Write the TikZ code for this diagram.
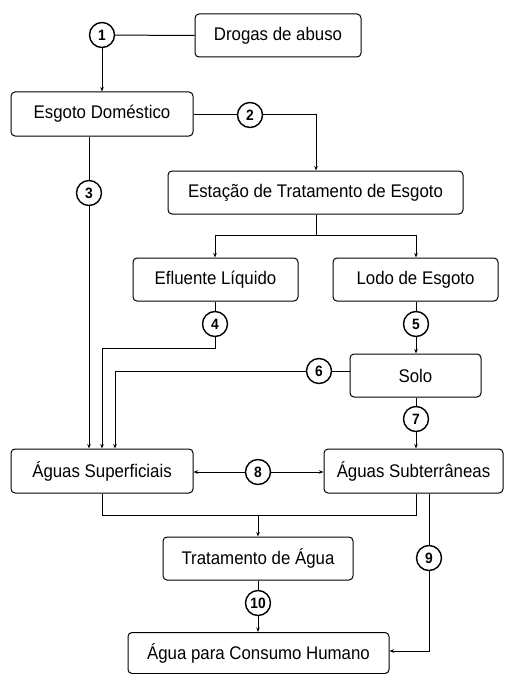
\documentclass[tikz,border=0pt]{standalone}
\usepackage{fontspec}
\setmainfont[FakeStretch=0.92]{Liberation Sans}
\usetikzlibrary{arrows.meta}
\begin{document}
\begin{tikzpicture}[x=1pt,y=-1pt,
  box/.style={draw,line width=1pt,rounded corners=4pt,inner sep=0pt,font=\fontsize{18.3}{20}\selectfont},
  num/.style={draw,circle,line width=1.4pt,minimum size=25pt,inner sep=0pt,font=\fontsize{15}{15}\selectfont\bfseries},
  ln/.style={line width=1pt},
  ar/.style={line width=1pt,-{Stealth[length=4.5pt,width=3.5pt]}}]
\useasboundingbox (0,0) rectangle (505,674);
% boxes
\node[box,minimum width=166pt,minimum height=43pt] (drogas) at (278,35.5) {Drogas de abuso};
\node[box,minimum width=182pt,minimum height=44pt] (esgoto) at (102,114) {Esgoto Doméstico};
\node[box,minimum width=295pt,minimum height=43pt] (ete) at (315.5,192.5) {Estação de Tratamento de Esgoto};
\node[box,minimum width=165pt,minimum height=43pt] (eflu) at (215.5,279.5) {Efluente Líquido};
\node[box,minimum width=165pt,minimum height=43pt] (lodo) at (415.5,279.5) {Lodo de Esgoto};
\node[box,minimum width=131pt,minimum height=43pt] (solo) at (415.5,375.5) {Solo};
\node[box,minimum width=182pt,minimum height=44pt] (sup) at (102,471) {Águas Superficiais};
\node[box,minimum width=179pt,minimum height=44pt] (sub) at (413.5,471) {Águas Subterrâneas};
\node[box,minimum width=190pt,minimum height=43pt] (trat) at (258,558.5) {Tratamento de Água};
\node[box,minimum width=261pt,minimum height=41pt] (cons) at (258.5,653) {Água para Consumo Humano};
% circles
\node[num] (c1) at (102,35) {1};
\node[num] (c2) at (250,115) {2};
\node[num] (c3) at (89,193) {3};
\node[num] (c4) at (215,324) {4};
\node[num] (c5) at (416,324) {5};
\node[num] (c6) at (319,371) {6};
\node[num] (c7) at (416,419) {7};
\node[num] (c8) at (258,472) {8};
\node[num] (c9) at (429,558) {9};
\node[num] (c10) at (258,603) {10};
% coordinates
\coordinate (j2) at (316,115);
\coordinate (ja) at (316,235);
\coordinate (jl) at (215,235);
\coordinate (jr) at (416,235);
\coordinate (j4a) at (215,348);
\coordinate (j4b) at (102,348);
\coordinate (j6) at (115,371);
\coordinate (ma) at (102,515);
\coordinate (mb) at (416,515);
\coordinate (mc) at (258,515);
\coordinate (j9) at (429,651);
% connectors
\draw[ln] (drogas.west) -- (c1);
\draw[ar] (c1) -- (c1 |- esgoto.north);
\draw[ln] (esgoto.east |- c2) -- (c2);
\draw[ar] (c2) -- (j2) -- (j2 |- ete.north);
\draw[ln] (c3 |- esgoto.south) -- (c3);
\draw[ar] (c3) -- (c3 |- sup.north);
\draw[ln] (ete.south -| ja) -- (ja);
\draw[ln] (jl) -- (jr);
\draw[ar] (jl) -- (jl |- eflu.north);
\draw[ar] (jr) -- (jr |- lodo.north);
\draw[ln] (eflu.south -| c4) -- (c4);
\draw[ar] (c4) -- (j4a) -- (j4b) -- (j4b |- sup.north);
\draw[ln] (lodo.south -| c5) -- (c5);
\draw[ar] (c5) -- (c5 |- solo.north);
\draw[ln] (solo.west |- c6) -- (c6);
\draw[ar] (c6) -- (j6) -- (j6 |- sup.north);
\draw[ln] (solo.south -| c7) -- (c7);
\draw[ar] (c7) -- (c7 |- sub.north);
\draw[ar] (c8) -- (sup.east |- c8);
\draw[ar] (c8) -- (sub.west |- c8);
\draw[ln] (ma |- sup.south) -- (ma) -- (mb) -- (mb |- sub.south);
\draw[ar] (mc) -- (mc |- trat.north);
\draw[ln] (trat.south -| c10) -- (c10);
\draw[ar] (c10) -- (c10 |- cons.north);
\draw[ln] (c9 |- sub.south) -- (c9);
\draw[ar] (c9) -- (j9) -- (cons.east |- j9);
\end{tikzpicture}
\end{document}
